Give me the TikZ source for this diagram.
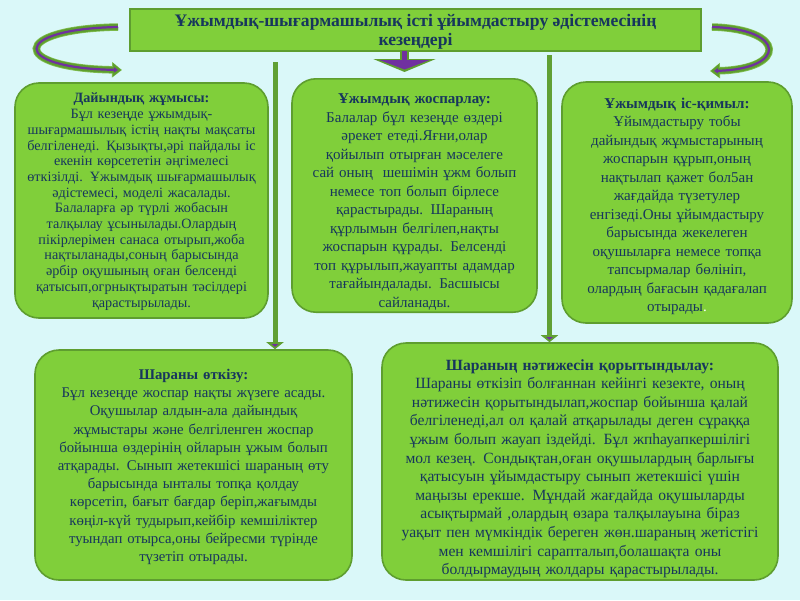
\documentclass[tikz,border=0pt]{standalone}
\usepackage{fontspec}
\setmainfont{Liberation Serif}
\usepackage{xcolor}
\usetikzlibrary{arrows.meta}

\definecolor{skybg}{RGB}{218,248,249}
\definecolor{leafgreen}{RGB}{128,207,58}
\definecolor{edgegreen}{RGB}{94,158,47}
\definecolor{stemgreen}{RGB}{96,160,52}
\definecolor{halogreen}{RGB}{128,190,80}
\definecolor{inkblue}{RGB}{23,54,93}
\definecolor{plum}{RGB}{112,48,160}

% pushes a block of lines down inside its box
\newcommand{\droptext}[1]{\rule{0pt}{#1}}

\begin{document}
\begin{tikzpicture}[
  x=1pt, y=-1pt,
  stage/.style={rectangle, draw=edgegreen, line width=1.6pt, fill=leafgreen, rounded corners=24pt, align=center, inner sep=2pt, text=inkblue, font=\fontsize{15}{18.5}\selectfont},
  headbox/.style={rectangle, draw=edgegreen, line width=1.6pt, fill=leafgreen, align=center, inner sep=0pt, text=inkblue, font=\bfseries\fontsize{17.6}{19}\selectfont},
  stem/.style={line width=5pt, stemgreen, -{Triangle[width=17pt,length=7pt,line width=2.5pt,fill=plum]}},
  loophalo/.style={line width=7.5pt, halogreen, -{Triangle[width=15pt,length=10pt]}},
  loopbody/.style={line width=6pt, edgegreen, shorten >=1pt, -{Triangle[width=13pt,length=8pt]}},
  loopcore/.style={line width=2.2pt, plum, shorten >=4pt, -{Triangle[width=5pt,length=4pt]}}
]
\fill[skybg] (0,0) rectangle (800,600);

% title
\node[headbox, minimum width=571pt, minimum height=42pt] (title) at (415.5,30)
  {\droptext{15pt}Ұжымдық-шығармашылық істі ұйымдастыру әдістемесінің\\кезеңдері};

% stages
\node[stage, text width=245pt, minimum width=253pt, minimum height=235pt,
      font=\fontsize{14.2}{15.7}\selectfont] (prep) at (141.5,200.5)
  {\droptext{12pt}\textbf{Дайындық жұмысы:}\\
   Бұл кезеңде ұжымдық-\\
   шығармашылық істің нақты мақсаты\\
   белгіленеді. Қызықты,әрі пайдалы іс\\
   екенін көрсететін әңгімелесі\\
   өткізілді. Ұжымдық шығармашылық\\
   әдістемесі, моделі жасалады.\\
   Балаларға әр түрлі жобасын\\
   талқылау ұсынылады.Олардың\\
   пікірлерімен санаса отырып,жоба\\
   нақтыланады,соның барысында\\
   әрбір оқушының оған белсенді\\
   қатысып,огрнықтыратын тәсілдері\\
   қарастырылады.};

\node[stage, text width=238pt, minimum width=245pt, minimum height=227pt] (plan) at (414.5,195.5)
  {\droptext{23pt}\textbf{Ұжымдық жоспарлау:}\\
   Балалар бұл кезеңде өздері\\
   әрекет етеді.Яғни,олар\\
   қойылып отырған мәселеге\\
   сай оның\ \ шешімін ұжм болып\\
   немесе топ болып бірлесе\\
   қарастырады. Шараның\\
   құрлымын белгілеп,нақты\\
   жоспарын құрады. Белсенді\\
   топ құрылып,жауапты адамдар\\
   тағайындалады. Басшысы\\
   сайланады.};

\node[stage, text width=222pt, minimum width=230pt, minimum height=241pt] (act) at (677,202.5)
  {\droptext{18pt}\textbf{Ұжымдық іс-қимыл:}\\
   Ұйымдастыру тобы\\
   дайындық жұмыстарының\\
   жоспарын құрып,оның\\
   нақтылап қажет бол5ан\\
   жағдайда түзетулер\\
   енгізеді.Оны ұйымдастыру\\
   барысында жекелеген\\
   оқушыларға немесе топқа\\
   тапсырмалар бөлініп,\\
   олардың бағасын қадағалап\\
   отырады{\color{white}.}};

\node[stage, text width=309pt, minimum width=317pt, minimum height=230pt,
      font=\fontsize{14.8}{18.2}\selectfont] (run) at (193.5,465)
  {\droptext{14pt}\textbf{Шараны өткізу:}\\
   Бұл кезеңде жоспар нақты жүзеге асады.\\
   Оқушылар алдын-ала дайындық\\
   жұмыстары және белгіленген жоспар\\
   бойынша өздерінің ойларын ұжым болып\\
   атқарады. Сынып жетекшісі шараның өту\\
   барысында ынталы топқа қолдау\\
   көрсетіп, бағыт бағдар беріп,жағымды\\
   көңіл-күй тудырып,кейбір кемшіліктер\\
   туындап отырса,оны бейресми түрінде\\
   түзетіп отырады.};

\node[stage, text width=388pt, minimum width=396pt, minimum height=237pt,
      font=\fontsize{15.6}{18.6}\selectfont] (sum) at (580,461.5)
  {\droptext{25pt}\textbf{Шараның нәтижесін қорытындылау:}\\
   Шараны өткізіп болғаннан кейінгі кезекте, оның\\
   нәтижесін қорытындылап,жоспар бойынша қалай\\
   белгіленеді,ал ол қалай атқарылады деген сұраққа\\
   ұжым болып жауап іздейді. Бұл жпһауапкершілігі\\
   мол кезең. Сондықтан,оған оқушылардың барлығы\\
   қатысуын ұйымдастыру сынып жетекшісі үшін\\
   маңызы ерекше. Мұндай жағдайда оқушыларды\\
   асықтырмай ,олардың өзара талқылауына біраз\\
   уақыт пен мүмкіндік береген жөн.шараның жетістігі\\
   мен кемшілігі сарапталып,болашақта оны\\
   болдырмаудың жолдары қарастырылады.};

% connectors
\coordinate (ltop) at (275,62);
\coordinate (rtop) at (549.5,55);
\coordinate (mtop) at (404.5,51);
\draw[stem] (ltop) -- (ltop |- run.north);
\draw[stem] (rtop) -- (rtop |- sum.north);

\draw[line width=9pt, edgegreen, shorten >=6pt, -{Triangle[width=62pt,length=13pt]}] (mtop) -- (mtop |- plan.north);
\draw[line width=5.5pt, plum, shorten >=8.5pt, -{Triangle[width=50pt,length=9.5pt]}] (mtop) -- (mtop |- plan.north);

% side loops
\coordinate (lin) at (118,27);
\coordinate (lout) at (122,70);
\coordinate (rin) at (712,27);
\coordinate (rout) at (710,71);
\foreach \s in {loophalo, loopbody, loopcore}{
  \draw[\s] (lin) .. controls (10,29) and (10,68) .. (lout);
  \draw[\s] (rin) .. controls (787,29) and (787,69) .. (rout);
}
\end{tikzpicture}
\end{document}
